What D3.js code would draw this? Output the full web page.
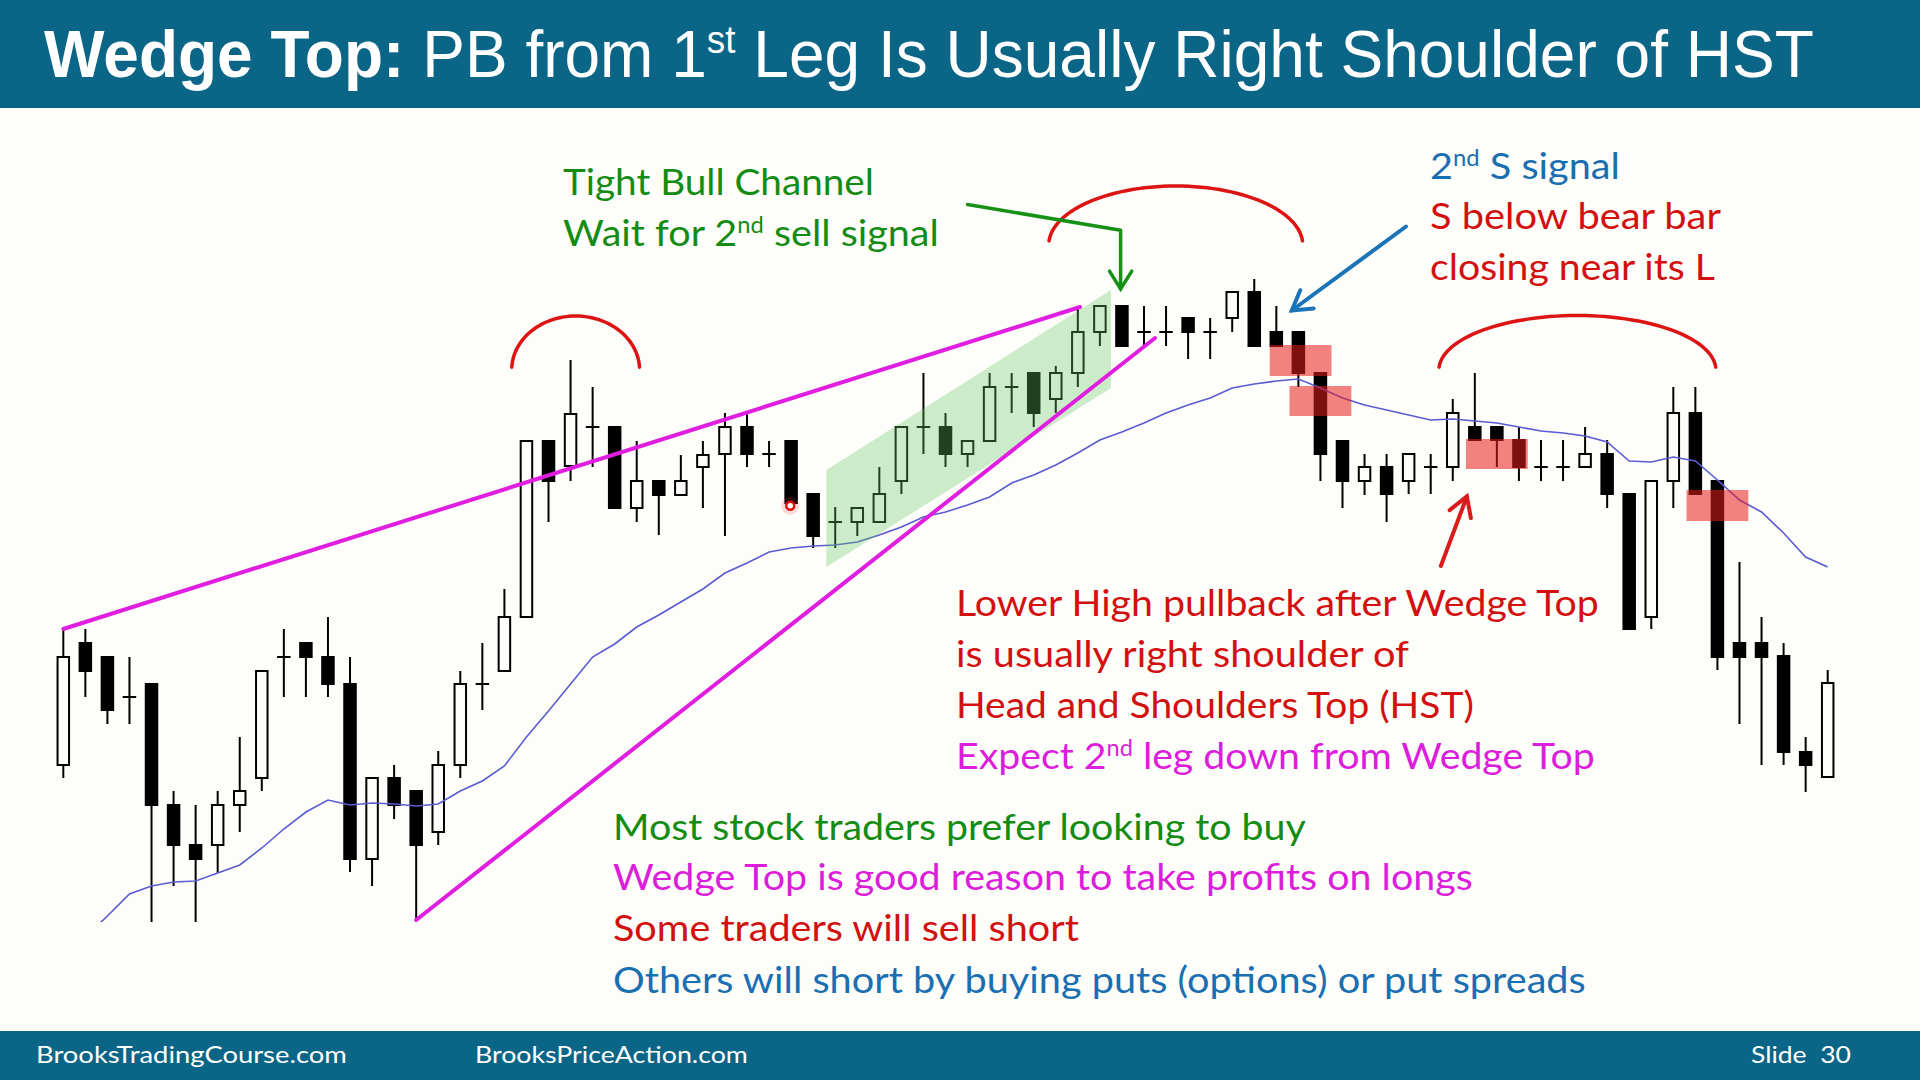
<!DOCTYPE html>
<html><head><meta charset="utf-8">
<script src="https://cdn.jsdelivr.net/npm/d3@7"></script>
<style>html,body{margin:0;padding:0;background:#fdfdf9;}svg{display:block}text{white-space:pre}</style>
</head><body>
<svg id="c" width="1920" height="1080"></svg>
<script>
// ---------- chart data (prices) ----------
const opens = [23.5,35.7,34.3,30.3,31.6,19.5,15.5,15.5,19.5,22.2,
  34.3,35.7,34.3,31.6,14.1,22.2,20.9,16.8,23.5,31.6,
  32.9,38.3,55.9,53.4,57.3,57.3,49.2,51.9,50.5,53.3,
  54.6,57.3,54.6,55.9,50.6,47.8,47.8,47.8,51.9,57.3,
  57.3,54.6,55.9,61.3,62.7,60.1,62.7,66.8,69.4,66.8,
  66.8,68.2,66.8,68.2,70.8,66.8,66.8,62.7,55.9,51.9,
  53.3,51.9,53.3,53.3,57.3,57.3,56.0,53.3,53.3,53.3,
  54.6,50.6,38.3,51.9,58.7,51.9,35.7,35.7,34.4,24.8,22.3];
const highs = [37.1,37.1,34.3,34.3,31.6,20.9,19.5,20.9,26.3,32.9,
  37.1,35.7,38.3,34.3,22.2,23.5,20.9,24.9,32.9,35.7,
  41.1,55.9,55.9,64.0,61.3,57.3,55.9,51.9,54.5,55.9,
  58.7,58.9,55.9,55.9,50.6,49.3,49.2,53.3,57.3,62.7,
  58.7,55.9,62.7,62.7,62.7,63.4,69.4,69.4,69.4,69.4,
  69.4,68.2,68.2,70.8,72.1,69.4,66.8,62.7,55.9,54.6,
  54.6,54.6,54.6,60.1,62.7,57.3,57.3,56.0,56.0,57.3,
  56.0,50.6,51.9,61.3,61.3,51.9,43.8,38.3,35.7,26.3,33.0];
const lows = [22.2,30.3,27.6,27.6,7.8,11.4,7.8,12.7,16.8,20.9,
  30.3,30.3,30.3,12.8,11.4,18.1,8.0,15.5,22.2,29.0,
  32.9,38.3,47.8,51.9,53.3,49.2,47.8,46.5,50.5,49.2,
  46.4,53.3,53.3,49.7,45.2,45.2,46.4,47.8,50.6,54.6,
  53.3,53.3,55.9,58.7,57.3,58.7,61.3,65.4,65.4,65.4,
  65.4,64.1,64.1,66.8,65.4,65.4,61.3,51.9,49.2,50.5,
  47.8,50.6,50.6,51.9,56.0,53.3,51.9,51.9,51.9,53.3,
  49.2,37.1,37.1,49.2,50.6,33.0,27.6,23.5,23.5,20.8,22.3];
const closes = [34.3,32.9,29.0,30.3,19.5,15.5,14.1,19.5,20.9,32.9,
  34.3,34.3,31.6,14.1,22.2,19.5,15.5,23.5,31.6,31.6,
  38.3,55.9,51.9,58.6,57.3,49.2,51.9,50.5,51.9,54.5,
  57.3,54.6,54.6,49.7,46.4,47.8,49.2,50.6,57.3,57.3,
  54.6,55.9,61.3,61.3,58.7,62.7,66.8,69.4,65.4,66.8,
  66.8,66.8,66.8,70.8,65.4,65.4,62.7,54.6,51.9,53.3,
  50.6,54.6,53.3,58.7,56.0,56.0,53.3,53.3,53.3,54.6,
  50.6,37.1,51.9,58.7,50.6,34.3,34.3,34.3,24.8,23.5,31.7];
// moving average, first value belongs to bar index maStart
const maStart = 1;
const maValues = [6.3,8.4,10.6,11.4,11.8,11.9,12.7,13.5,15.2,
  17.1,18.8,20.0,19.5,19.7,19.6,19.4,19.6,20.9,21.9,
  23.4,26.3,28.9,31.6,34.3,35.6,37.3,38.5,39.8,41.1,
  42.7,43.7,44.8,45.2,45.4,45.5,45.8,46.5,47.3,48.3,
  48.8,49.5,50.3,51.7,52.5,53.5,54.7,56.0,56.8,57.7,
  58.7,59.5,60.2,61.2,61.6,61.9,62.1,61.2,60.2,59.5,
  59.0,58.5,58.0,58.1,57.9,57.7,57.3,56.9,56.7,56.4,
  55.8,53.9,53.8,54.3,53.9,52.0,50.0,48.8,46.7,44.3,43.3];
const chartFloor = 7.8; // lowest price shown (chart clipped below)
// annotations in [bar index, price]
const wedgeUpper = [[0,37.1],[46.1,69.3]];
const wedgeLower = [[16,8.0],[49.5,66.2]];
const channelPoly = [[34.6,53.0],[47.5,71.0],[47.5,61.2],[34.6,43.3]];
// [i0, i1, pHigh, pLow]
const signalBoxes = [[54.7,57.5,65.5,62.4],[55.6,58.4,61.4,58.4],[63.6,66.4,56.1,53.1],[73.6,76.4,51.0,47.9]];
// [centre index, centre price, radius (bars), radius (price), end angle deg]
const hstArcs = [[23.23,63.0,2.9,5.4,3],[50.44,75.5,5.76,5.9,4],[68.65,63.0,6.28,5.45,3]];
const greenArrow = [[41.0,79.55],[47.94,76.98],[47.94,71.1]];
const blueArrow = [[60.88,77.35],[55.70,68.95]];
const redArrow = [[62.46,43.4],[63.64,50.35]];
const cursorDot = [32.96,49.43];

// ---------- drawing ----------
const W=1920,H=1080,BG='#fdfdf9';
const svg=d3.select('#c');
svg.append('rect').attr('width',W).attr('height',H).attr('fill',BG);
const x=d3.scaleLinear().domain([0,80]).range([63.3,1827.7]);
const y=d3.scaleLinear().domain([0,80]).range([1000,200]);
const P=p=>[x(p[0]),y(p[1])];

svg.append('clipPath').attr('id','plotclip').append('rect')
  .attr('x',0).attr('y',0).attr('width',W).attr('height',y(chartFloor));

const bars=d3.range(opens.length).map(i=>({i,o:opens[i],h:highs[i],l:lows[i],c:closes[i]}));
const bw=11.5;
const cg=svg.append('g').selectAll('g').data(bars).join('g');
cg.append('line').attr('x1',d=>x(d.i)).attr('x2',d=>x(d.i))
  .attr('y1',d=>y(d.h)).attr('y2',d=>y(d.l)).attr('stroke','#000').attr('stroke-width',2);
cg.filter(d=>d.o!==d.c).append('rect')
  .attr('x',d=>x(d.i)-bw/2).attr('width',bw)
  .attr('y',d=>y(Math.max(d.o,d.c))).attr('height',d=>Math.abs(y(d.o)-y(d.c)))
  .attr('fill',d=>d.c>d.o?BG:'#000').attr('stroke','#000').attr('stroke-width',2);
cg.filter(d=>d.o===d.c).append('line')
  .attr('x1',d=>x(d.i)-bw/2-1).attr('x2',d=>x(d.i)+bw/2+1)
  .attr('y1',d=>y(d.o)).attr('y2',d=>y(d.o)).attr('stroke','#000').attr('stroke-width',2);

// moving average
svg.append('path').datum(maValues).attr('clip-path','url(#plotclip)')
  .attr('d',d3.line().x((v,k)=>x(k+maStart)).y(v=>y(v)))
  .attr('fill','none').attr('stroke','#5b5bd2').attr('stroke-width',1.6);

// tight bull channel
svg.append('path').attr('d',d3.line()(channelPoly.map(P))+'Z')
  .attr('fill','rgba(100,200,100,0.32)');

// wedge lines
[wedgeUpper,wedgeLower].forEach(l=>{
  svg.append('path').attr('d',d3.line()(l.map(P)))
    .attr('stroke','#e01ee0').attr('stroke-width',4).attr('stroke-linecap','round').attr('fill','none');
});

// signal boxes
svg.append('g').selectAll('rect').data(signalBoxes).join('rect')
  .attr('x',d=>x(d[0])).attr('width',d=>x(d[1])-x(d[0]))
  .attr('y',d=>y(d[2])).attr('height',d=>y(d[3])-y(d[2]))
  .attr('fill','rgba(232,30,30,0.55)');

// HST arcs
hstArcs.forEach(a=>{
  const cx=x(a[0]),cy=y(a[1]),rx=x(a[0]+a[2])-cx,ry=y(a[1]-a[3])-cy;
  const e=a[4]*Math.PI/180;
  const pts=d3.range(0,61).map(k=>{const t=e+(Math.PI-2*e)*k/60;return [cx+rx*Math.cos(t),cy-ry*Math.sin(t)];});
  svg.append('path').attr('d',d3.line()(pts)).attr('fill','none')
    .attr('stroke','#dc1414').attr('stroke-width',3.5).attr('stroke-linecap','round');
});

// arrows
function arrow(pts,color,w,len,ang){
  const px=pts.map(P);
  svg.append('path').attr('d',d3.line()(px)).attr('fill','none').attr('stroke',color)
    .attr('stroke-width',w).attr('stroke-linejoin','round').attr('stroke-linecap','round');
  const a=px[px.length-2],b=px[px.length-1];
  const dx=a[0]-b[0],dy=a[1]-b[1],L=Math.hypot(dx,dy),ux=dx/L,uy=dy/L;
  const r=ang*Math.PI/180;
  const w1=[b[0]+len*(ux*Math.cos(r)-uy*Math.sin(r)),b[1]+len*(ux*Math.sin(r)+uy*Math.cos(r))];
  const w2=[b[0]+len*(ux*Math.cos(-r)-uy*Math.sin(-r)),b[1]+len*(ux*Math.sin(-r)+uy*Math.cos(-r))];
  svg.append('path').attr('d',d3.line()([w1,b,w2])).attr('fill','none').attr('stroke',color)
    .attr('stroke-width',w).attr('stroke-linejoin','miter').attr('stroke-linecap','round');
}
arrow(greenArrow,'#169116',3.5,21,32);
arrow(blueArrow,'#1b74b8',4,22,31);
arrow(redArrow,'#d81c1c',4,22,31);

// cursor dot
const cd=P(cursorDot);
svg.append('circle').attr('cx',cd[0]).attr('cy',cd[1]).attr('r',9).attr('fill','rgba(255,60,60,0.18)');
svg.append('circle').attr('cx',cd[0]).attr('cy',cd[1]).attr('r',4).attr('fill','#fff').attr('stroke','#e01010').attr('stroke-width',2.5);

// ---------- texts ----------
const GREEN='#148c14',RED='#d21010',BLUE='#1a6eb2',MAG='#dc1edc';
const notes=[
  {s:'Tight Bull Channel',x:563,y:195,w:311,c:GREEN},
  {s:'Wait for 2^nd^ sell signal',x:563,y:246,w:376,c:GREEN},
  {s:'2^nd^ S signal',x:1430,y:179,w:190,c:BLUE},
  {s:'S below bear bar',x:1430,y:229,w:291,c:RED},
  {s:'closing near its L',x:1430,y:280,w:285,c:RED},
  {s:'Lower High pullback after Wedge Top',x:956,y:616,w:643,c:RED},
  {s:'is usually right shoulder of',x:956,y:667,w:453,c:RED},
  {s:'Head and Shoulders Top (HST)',x:956,y:718,w:518,c:RED},
  {s:'Expect 2^nd^ leg down from Wedge Top',x:956,y:769,w:639,c:MAG},
  {s:'Most stock traders prefer looking to buy',x:613,y:840,w:693,c:GREEN},
  {s:'Wedge Top is good reason to take profits on longs',x:613,y:890,w:860,c:MAG},
  {s:'Some traders will sell short',x:613,y:941,w:466,c:RED},
  {s:'Others will short by buying puts (options) or put spreads',x:613,y:993,w:973,c:BLUE}
];
function fitText(parent,s,xx,yy,w,color,fs,family){
  const t=parent.append('text').attr('font-family',family).attr('font-size',fs).attr('fill',color);
  const parts=s.split('^');const shift=fs*0.36;let pending=0;
  parts.forEach((p,k)=>{
    if(!p.length)return;
    const sp=t.append('tspan').text(p);
    if(k%2===1){sp.attr('font-size',fs*0.6).attr('dy',-shift);pending=shift;}
    else if(pending){sp.attr('dy',pending);pending=0;}
  });
  const bw0=t.node().getComputedTextLength();
  t.attr('transform',`translate(${xx},${yy}) scale(${w/bw0},1)`);
  return t;
}
notes.forEach(n=>fitText(svg,n.s,n.x,n.y,n.w,n.c,37,'Lato'));

// header
svg.append('rect').attr('x',0).attr('y',0).attr('width',W).attr('height',108).attr('fill','#0b6586');
const tt=svg.append('text').attr('font-family','Liberation Sans, Arial').attr('font-size',66).attr('fill','#fff');
tt.append('tspan').attr('font-weight','bold').text('Wedge Top:');
tt.append('tspan').text(' PB from 1');
tt.append('tspan').attr('font-size',38).attr('dy',-24).text('st');
tt.append('tspan').attr('dy',24).text(' Leg Is Usually Right Shoulder of HST');
const tw=tt.node().getComputedTextLength();
tt.attr('transform',`translate(44,77) scale(${1770/tw},1)`);

// footer
svg.append('rect').attr('x',0).attr('y',1031).attr('width',W).attr('height',49).attr('fill','#0b6586');
fitText(svg,'BrooksTradingCourse.com',36,1063,311,'#fff',24,'Lato');
fitText(svg,'BrooksPriceAction.com',475,1063,273,'#fff',24,'Lato');
fitText(svg,'Slide  30',1751,1063,100,'#fff',24,'Lato');
</script>
</body></html>
